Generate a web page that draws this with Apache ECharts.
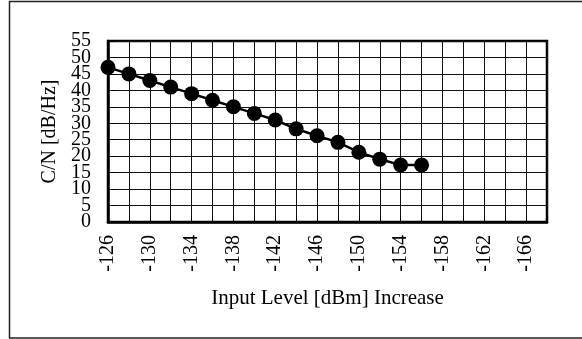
<!DOCTYPE html>
<html>
<head>
<meta charset="utf-8">
<script src="https://cdn.jsdelivr.net/npm/echarts@6/dist/echarts.min.js"></script>
<style>
html,body{margin:0;padding:0;background:#fff;}
#c{width:582px;height:339px;}
</style>
</head>
<body>
<div id="c"></div>
<script>
var categories = ['-126','-128','-130','-132','-134','-136','-138','-140','-142','-144','-146','-148','-150','-152','-154','-156','-158','-160','-162','-164','-166','-168'];
var cnValues = [47,45,43,41,39,37,35,33,31,28.3,26.2,24.2,21.2,19.1,17.3,17.3];
var yMin = 0, yMax = 55, yStep = 5;
var xName = 'Input Level [dBm] Increase';
var yName = 'C/N [dB/Hz]';

var font = 'Liberation Serif';
var labelBase = {margin:17, fontFamily:font, fontSize:20, color:'#000', showMinLabel:true, showMaxLabel:true};
function yAxisDef(parity, main){
  return {
    type:'value', min:yMin, max:yMax, interval:yStep, position:'left',
    axisLine:{show:main, lineStyle:{color:'#000', width:2.5}},
    axisTick:{show:main, inside:true, length:7, lineStyle:{color:'#000', width:1}},
    splitLine:{show:main, lineStyle:{color:'#111', width:1}},
    axisLabel:Object.assign({}, labelBase, {formatter:function(v){ return (Math.round(v/yStep) % 2 === parity) ? String(v) : ''; }}),
    name: main ? yName : '', nameLocation:'middle', nameGap:48, nameRotate:90,
    nameTextStyle:{fontFamily:font, fontSize:20, color:'#000'}
  };
}
var chart = echarts.init(document.getElementById('c'), null, {renderer:'canvas'});
chart.setOption({
  animation:false,
  backgroundColor:'#fff',
  grid:{left:108, top:41, right:35, bottom:117, containLabel:false},
  graphic:[
    {type:'rect', shape:{x:9.5, y:1.5, width:620, height:336.5}, style:{fill:'none', stroke:'#222', lineWidth:1.5}, silent:true},
    {type:'rect', shape:{x:108, y:41, width:439, height:181}, style:{fill:'none', stroke:'#000', lineWidth:2.5}, silent:true}
  ],
  xAxis:{
    type:'category', data:categories, boundaryGap:false,
    axisLine:{show:true, lineStyle:{color:'#000', width:2.5}},
    axisTick:{show:true, inside:true, length:6, interval:0, lineStyle:{color:'#000', width:1}},
    splitLine:{show:true, interval:0, lineStyle:{color:'#111', width:1}},
    axisLabel:{rotate:90, interval:1, margin:13, fontFamily:font, fontSize:20, color:'#000'},
    name:xName, nameLocation:'middle', nameGap:66,
    nameTextStyle:{fontFamily:font, fontSize:21, color:'#000'}
  },
  yAxis:[yAxisDef(0, true), yAxisDef(1, false)],
  series:[{
    type:'line', data:cnValues, yAxisIndex:0, symbol:'circle', symbolSize:15, showAllSymbol:true,
    lineStyle:{color:'#000', width:2.5}, itemStyle:{color:'#000'},
    clip:false
  }]
});
</script>
</body>
</html>
